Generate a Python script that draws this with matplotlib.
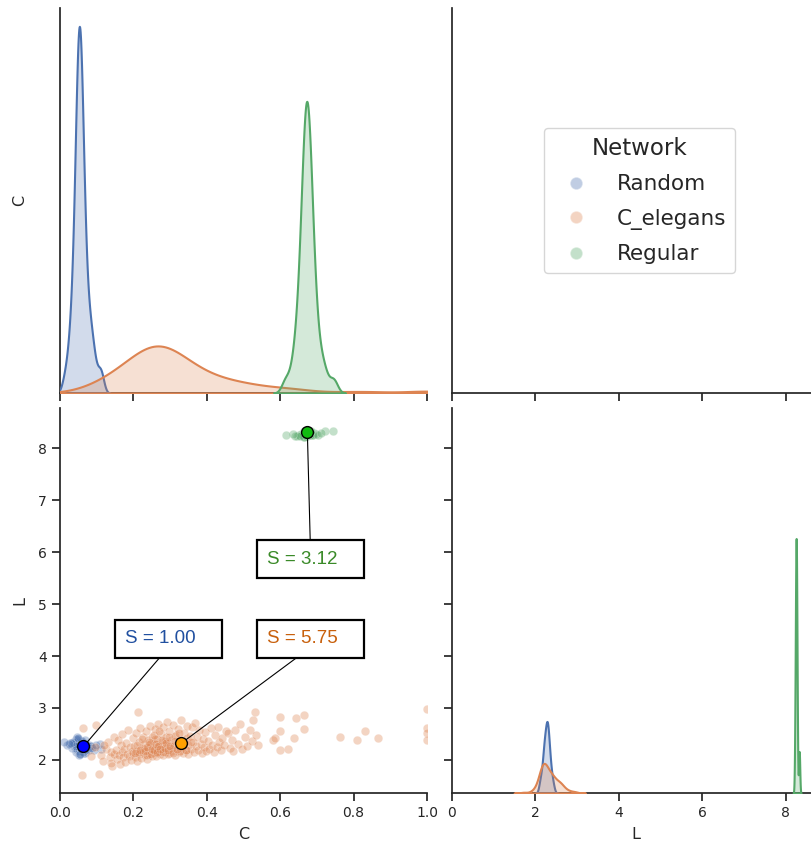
import matplotlib
matplotlib.use("Agg")
import matplotlib.pyplot as plt
from matplotlib.lines import Line2D
import seaborn as sns

# clustering coefficient C and path length L per node
random_C = [0.052, 0.048, 0.055, 0.060, 0.045, 0.050, 0.058, 0.042, 0.063, 0.053,
            0.047, 0.057, 0.039, 0.066, 0.051, 0.044, 0.061, 0.054, 0.049, 0.070,
            0.036, 0.059, 0.046, 0.075, 0.052, 0.041, 0.068, 0.056, 0.033, 0.080,
            0.050, 0.062, 0.028, 0.085, 0.054, 0.110, 0.083, 0.112, 0.020, 0.092,
            0.050, 0.055, 0.045, 0.060, 0.052, 0.048, 0.058, 0.043, 0.065, 0.053,
            0.038, 0.070, 0.047, 0.057, 0.062, 0.035, 0.073, 0.051, 0.044, 0.067,
            0.056, 0.031, 0.078, 0.049, 0.059, 0.025, 0.088, 0.054, 0.012, 0.098]
random_L = [2.26, 2.29, 2.22, 2.32, 2.20, 2.28, 2.24, 2.34, 2.17, 2.30,
            2.23, 2.36, 2.27, 2.20, 2.31, 2.15, 2.28, 2.25, 2.38, 2.21,
            2.33, 2.18, 2.29, 2.23, 2.35, 2.27, 2.13, 2.31, 2.24, 2.28,
            2.40, 2.22, 2.33, 2.26, 2.11, 2.31, 2.27, 2.22, 2.29, 2.19,
            2.27, 2.33, 2.21, 2.36, 2.18, 2.30, 2.25, 2.40, 2.14, 2.28,
            2.31, 2.20, 2.44, 2.24, 2.16, 2.35, 2.29, 2.09, 2.26, 2.38,
            2.22, 2.32, 2.19, 2.42, 2.27, 2.30, 2.23, 2.12, 2.34, 2.28]

celegans_C = [0.059, 0.064, 0.098, 0.085, 0.095,
              0.107, 0.112, 0.118, 0.125, 0.130, 0.135, 0.140, 0.142, 0.146, 0.148, 0.120, 0.138,
              0.152, 0.155, 0.158, 0.160, 0.163, 0.165, 0.168, 0.170, 0.172, 0.175,
              0.178, 0.180, 0.183, 0.185, 0.188, 0.190, 0.193, 0.195, 0.198, 0.199,
              0.201, 0.204, 0.206, 0.208, 0.210, 0.212, 0.214, 0.216, 0.218, 0.220,
              0.222, 0.225, 0.227, 0.229, 0.231, 0.233, 0.235, 0.237, 0.239, 0.241,
              0.243, 0.245, 0.247, 0.249, 0.250,
              0.252, 0.254, 0.256, 0.258, 0.260, 0.262, 0.264, 0.266, 0.268, 0.270,
              0.272, 0.274, 0.276, 0.278, 0.280, 0.282, 0.284, 0.286, 0.288, 0.290,
              0.292, 0.294, 0.296, 0.298, 0.299,
              0.302, 0.305, 0.308, 0.310, 0.313, 0.316, 0.318, 0.321, 0.324, 0.327,
              0.330, 0.333, 0.336, 0.339, 0.341, 0.343, 0.345, 0.347, 0.349, 0.350,
              0.353, 0.356, 0.359, 0.362, 0.365, 0.368, 0.371, 0.374, 0.377, 0.380,
              0.383, 0.386, 0.389, 0.392, 0.395, 0.398,
              0.403, 0.407, 0.411, 0.415, 0.419, 0.423, 0.427, 0.430, 0.434, 0.438, 0.442, 0.447,
              0.452, 0.459, 0.463, 0.468, 0.472, 0.478, 0.484, 0.490, 0.496,
              0.503, 0.510, 0.517, 0.523, 0.526, 0.531, 0.535, 0.539,
              0.581, 0.586, 0.599, 0.600, 0.600, 0.622, 0.638, 0.642, 0.666, 0.666,
              0.763, 0.808, 0.831, 0.866,
              1.0, 1.0, 1.0, 1.0,
              0.215, 0.228, 0.236, 0.244, 0.253, 0.259, 0.265, 0.271, 0.279, 0.287,
              0.295, 0.304, 0.314, 0.326, 0.338,
              0.205, 0.211, 0.219, 0.224, 0.232, 0.238, 0.242, 0.248, 0.251, 0.255,
              0.257, 0.261, 0.263, 0.267, 0.269, 0.273, 0.277, 0.281, 0.285, 0.289,
              0.293, 0.297, 0.301, 0.307, 0.312, 0.319, 0.323, 0.331, 0.344, 0.357]
celegans_L = [1.71, 2.62, 2.67, 2.08, 2.25,
              1.73, 2.10, 1.98, 2.22, 2.35, 2.05, 2.15, 1.88, 2.45, 2.12, 2.28, 1.95,
              2.20, 2.02, 2.38, 2.10, 1.92, 2.28, 2.15, 2.50, 2.05, 2.22,
              1.97, 2.33, 2.12, 2.58, 2.08, 2.25, 2.00, 2.18, 2.42, 2.13,
              2.26, 2.06, 2.52, 2.17, 1.98, 2.93, 2.35, 2.12, 2.62, 2.21,
              2.04, 2.44, 2.15, 2.30, 2.10, 2.55, 2.19, 2.01, 2.38, 2.24,
              2.11, 2.66, 2.18, 2.32, 2.08,
              2.45, 2.23, 2.13, 2.60, 2.30, 2.07, 2.40, 2.17, 2.70, 2.26,
              2.12, 2.50, 2.21, 2.35, 2.10, 2.64, 2.28, 2.15, 2.44, 2.20,
              2.74, 2.33, 2.14, 2.55, 2.24,
              2.38, 2.17, 2.68, 2.27, 2.10, 2.48, 2.22, 2.60, 2.15, 2.36,
              2.77, 2.25, 2.13, 2.52, 2.31, 2.19, 2.66, 2.42, 2.12, 2.29,
              2.47, 2.21, 2.63, 2.34, 2.16, 2.72, 2.27, 2.44, 2.19, 2.58,
              2.31, 2.14, 2.41, 2.25, 2.53, 2.18,
              2.37, 2.21, 2.61, 2.29, 2.16, 2.48, 2.25, 2.64, 2.35, 2.19, 2.43, 2.28,
              2.55, 2.51, 2.23, 2.38, 2.18, 2.58, 2.31, 2.70, 2.21,
              2.45, 2.27, 2.58, 2.37, 2.77, 2.93, 2.48, 2.29,
              2.38, 2.43, 2.83, 2.56, 2.19, 2.22, 2.42, 2.80, 2.86, 2.59,
              2.44, 2.38, 2.56, 2.42,
              2.98, 2.61, 2.52, 2.38,
              2.16, 2.24, 2.09, 2.31, 2.19, 2.40, 2.14, 2.27, 2.21, 2.36,
              2.11, 2.23, 2.46, 2.18, 2.30,
              2.13, 2.29, 2.20, 2.41, 2.17, 2.25, 2.34, 2.12, 2.22, 2.48,
              2.19, 2.31, 2.15, 2.27, 2.56, 2.21, 2.38, 2.16, 2.24, 2.33,
              2.19, 2.45, 2.26, 2.14, 2.37, 2.22, 2.51, 2.28, 2.20, 2.35]

regular_C = [0.672, 0.668, 0.676, 0.661, 0.683, 0.670, 0.657, 0.679, 0.665, 0.688,
             0.674, 0.652, 0.681, 0.667, 0.693, 0.662, 0.677, 0.646, 0.671, 0.685,
             0.659, 0.698, 0.669, 0.675, 0.641, 0.680, 0.664, 0.690, 0.673, 0.655,
             0.678, 0.703, 0.666, 0.684, 0.635, 0.722, 0.745, 0.615, 0.712, 0.671]
regular_L = [8.25, 8.24, 8.26, 8.24, 8.26, 8.23, 8.27, 8.25, 8.22, 8.26,
             8.24, 8.26, 8.25, 8.23, 8.28, 8.25, 8.26, 8.24, 8.23, 8.27,
             8.25, 8.27, 8.24, 8.26, 8.24, 8.25, 8.22, 8.26, 8.25, 8.24,
             8.27, 8.25, 8.33, 8.32, 8.27, 8.33, 8.32, 8.26, 8.28, 8.25]

networks = ["Random", "C_elegans", "Regular"]
C_values = [random_C, celegans_C, regular_C]
L_values = [random_L, celegans_L, regular_L]

# mean C, L and small-world index S per network
mean_C = [0.064, 0.330, 0.674]
mean_L = [2.26, 2.32, 8.30]
S_values = [1.00, 5.75, 3.12]
text_pos = [(0.178, 4.33), (0.565, 4.33), (0.565, 5.86)]
text_relpos = [(0.5, 0), (0.5, 0), (0.5, 1)]

palette = sns.color_palette("deep")[:3]
mean_colors = ["#0000ff", "#ffa000", "#11bb11"]
text_colors = ["#2150a0", "#c8600c", "#3a8a28"]

sns.set_style("ticks")
plt.rcParams.update({
    "axes.linewidth": 1.25,
    "xtick.major.width": 1.25, "ytick.major.width": 1.25,
    "xtick.major.size": 6, "ytick.major.size": 6,
    "xtick.labelsize": 10, "ytick.labelsize": 10,
    "axes.labelsize": 11.5,
})

W, H = 812, 846
fig = plt.figure(figsize=(W / 100, H / 100), dpi=100)
aw, ah = 367 / W, 385 / H
ax00 = fig.add_axes([60 / W, 1 - 393 / H, aw, ah])
ax10 = fig.add_axes([60 / W, 1 - 793 / H, aw, ah], sharex=ax00)
ax11 = fig.add_axes([452 / W, 1 - 793 / H, aw, ah], sharey=ax10)
ax01 = fig.add_axes([452 / W, 1 - 393 / H, aw, ah], sharex=ax11)

for ax in [ax00, ax10, ax11, ax01]:
    sns.despine(ax=ax)

d0 = ax00.twinx()
d1 = ax11.twinx()
d1.sharey(d0)
d0.set_axis_off()
d1.set_axis_off()

for i in range(3):
    sns.kdeplot(x=C_values[i], ax=d0, color=palette[i], fill=True, alpha=0.25, linewidth=1.5)
    sns.kdeplot(x=L_values[i], ax=d1, color=palette[i], fill=True, alpha=0.25, linewidth=1.5)
    ax10.scatter(C_values[i], L_values[i], color=palette[i], alpha=0.35, s=38,
                 edgecolor="white", linewidth=0.4)

d0.set_ylim(bottom=0)

for i in range(3):
    ax10.plot(mean_C[i], mean_L[i], "o", color=mean_colors[i], markersize=8.5,
              markeredgecolor="black", markeredgewidth=1.0, zorder=5)
    ax10.annotate(f"S = {S_values[i]:.2f}   ", xy=(mean_C[i], mean_L[i]), xytext=text_pos[i],
                  ha="left", va="center", color=text_colors[i], fontsize=13.5,
                  family="Liberation Sans",
                  bbox=dict(boxstyle="square,pad=0.55", fc="white", ec="black", lw=1.6),
                  arrowprops=dict(arrowstyle="-", color="black", lw=0.8,
                                  relpos=text_relpos[i], shrinkA=0, shrinkB=0),
                  zorder=4)

ax00.set_xlim(0, 1)
ax10.set_ylim(1.365, 8.77)
ax11.set_xlim(0, 8.8)

ax00.set_yticks([])
ax01.set_yticks([])
ax00.tick_params(labelbottom=False)
ax01.tick_params(labelbottom=False)
ax11.tick_params(labelleft=False)
ax10.set_xticks([0, 0.2, 0.4, 0.6, 0.8, 1.0])
ax11.set_xticks([0, 2, 4, 6, 8])

ax00.set_ylabel("C")
ax10.set_ylabel("L")
ax00.yaxis.set_label_coords(-0.09, 0.5)
ax10.yaxis.set_label_coords(-0.09, 0.5)
ax10.set_xlabel("C", labelpad=5)
ax11.set_xlabel("L", labelpad=5)

handles = [Line2D([], [], marker="o", linestyle="", color=palette[i], alpha=0.35,
                  markersize=9, markeredgecolor="white") for i in range(3)]
ax01.legend(handles, networks, title="Network", loc="center", bbox_to_anchor=(0.51, 0.5),
            fontsize=15.5, title_fontsize=16.5, handletextpad=0.8, handlelength=2.2,
            labelspacing=0.68)

fig.savefig("out.png", dpi=100)
